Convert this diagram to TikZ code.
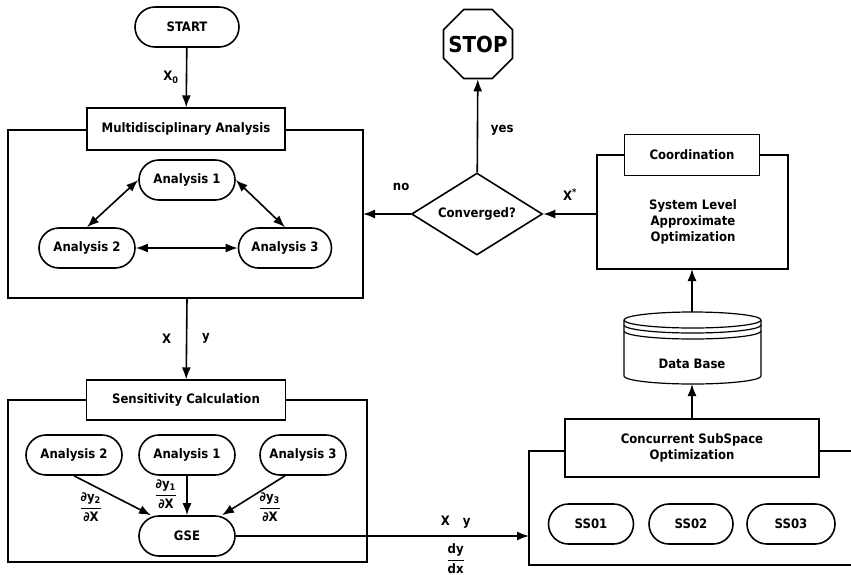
\documentclass[tikz,border=0pt]{standalone}
\usepackage{amsmath}
\usepackage{fontspec}
\setmainfont{DejaVu Sans Condensed}
\usepackage{tikz}
\usetikzlibrary{arrows,arrows.meta,shapes.geometric,shapes.misc}

\begin{document}
\begin{tikzpicture}[x=0.5pt,y=-0.5pt,->,>={Latex[length=6pt,width=4.5pt]},thick,
  font=\fontsize{6.5}{7.8}\selectfont\bfseries,
  main node/.style={rounded rectangle,draw,fill=white,minimum width=50pt,minimum height=20pt,inner sep=1pt},
  rec node/.style={rectangle,draw,fill=white,semithick,align=center,inner sep=1pt},
  frame/.style={draw,semithick,-}]

  \useasboundingbox (0,0) rectangle (851,574);
  %\fill[white] (0,0) rectangle (851,574);
  \draw[frame] (8,130) rectangle (363,298);
  \draw[frame] (8,400) rectangle (367,562);
  \draw[frame] (597,155) rectangle (788,269);
  \draw[frame] (851,451) -- (529,451) -- (529,565) -- (851,565);

  \node[main node,minimum width=54pt] (1) at (187,27) {START};
  \node[rec node,minimum width=99pt,minimum height=21pt] (2) at (186,129) {Multidisciplinary Analysis};
  \node[main node] (3) at (187,180) {Analysis 1};
  \node[main node] (4) at (87,248) {Analysis 2};
  \node[main node,minimum width=48.5pt] (5) at (285,248) {Analysis 3};
  \node[rec node,minimum width=99.5pt,minimum height=20pt] (6) at (186,400) {Sensitivity Calculation};
  \node[main node] (7) at (74,455) {Analysis 2};
  \node[main node] (8) at (187,455) {Analysis 1};
  \node[main node,minimum width=45pt] (9) at (303,455) {Analysis 3};
  \node[main node] (10) at (187,536) {GSE};
  \node[diamond,draw,fill=white,aspect=1.6,minimum width=65.5pt,minimum height=41pt,inner sep=0pt] (11) at (477,214) {Converged?};
  \node[regular polygon,regular polygon sides=8,draw,minimum size=37.3pt,inner sep=0pt,
    label={[font=\fontsize{11}{13}\selectfont\bfseries]center:STOP}] (12) at (478,44) {};
  \node[rec node,minimum width=67.5pt,minimum height=20.5pt] (13) at (692,155) {Coordination};
  \node[align=center] (14) at (693,222) {System Level\\Approximate\\Optimization};
  \draw[frame,fill=white] (624,320) -- (624,376) arc[start angle=180,end angle=360,x radius=34.25pt,y radius=4pt]
    -- (761,320) arc[start angle=0,end angle=180,x radius=34.25pt,y radius=4pt] -- cycle;
  \draw[frame] (624,320) arc[start angle=180,end angle=360,x radius=34.25pt,y radius=4pt];
  \draw[frame] (624,325) arc[start angle=180,end angle=360,x radius=34.25pt,y radius=4pt];
  \draw[frame] (624,331) arc[start angle=180,end angle=360,x radius=34.25pt,y radius=4pt];
  \node (15) at (692,364) {Data Base};
  \node[rec node,minimum width=127pt,minimum height=29pt] (18) at (692,448) {Concurrent SubSpace\\Optimization};
  \node[main node,minimum width=44.5pt] (19) at (591,524) {SS01};
  \node[main node,minimum width=44pt] (20) at (691,524) {SS02};
  \node[main node,minimum width=46pt] (21) at (791,524) {SS03};

  \coordinate (16) at (692,312);
  \coordinate (17) at (692,384);
  \coordinate (22) at (363,214);
  \coordinate (23) at (597,214);
  \coordinate (24) at (529,536);
  \coordinate (25) at (692,269);
  \coordinate (26) at (187,298);

  \node (27) at (91,507) {$\dfrac{\text{∂y\textsubscript{2}}}{\text{∂X}}$};
  \node (28) at (166,494) {$\dfrac{\text{∂y\textsubscript{1}}}{\text{∂X}}$};
  \node (29) at (270,507) {$\dfrac{\text{∂y\textsubscript{3}}}{\text{∂X}}$};

  \path
    (1) edge node [left] {X\textsubscript{0}} (2)
    (26) edge node [left,xshift=-4pt] {X} node [right,xshift=4pt] {y} (6)
    (3.west) edge [<->] (4.north)
    (3.east) edge [<->] (5.north)
    (4) edge [<->] (5)
    (7.south) edge ([xshift=-18pt]10.north)
    (8) edge (10)
    ([xshift=-9pt]9.south) edge ([xshift=17.5pt]10.north)
    (10) edge node [pos=0.75,above] {X\quad y} node [pos=0.75,below] {$\dfrac{\text{dy}}{\text{dx}}$} (24)
    (11) edge node [pos=0.45,right,xshift=3pt] {yes} (12)
    (11) edge node [pos=0.2,above,yshift=8pt] {no} (22)
    (23) edge node [above,yshift=3pt] {X\textsuperscript{*}} (11)
    (16) edge (25)
    (18) edge (17);
\end{tikzpicture}
\end{document}
